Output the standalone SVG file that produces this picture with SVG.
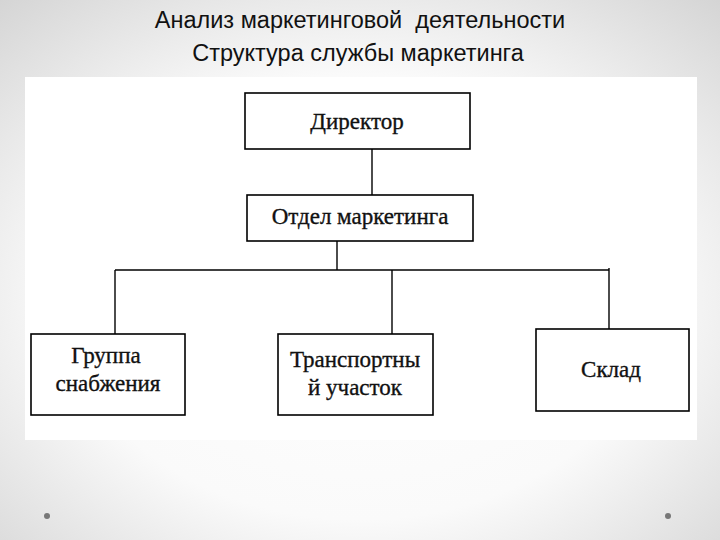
<svg xmlns="http://www.w3.org/2000/svg" width="720" height="540" viewBox="0 0 720 540">
<defs>
<radialGradient id="bg" cx="0.5" cy="0.55" r="0.75">
<stop offset="0" stop-color="#ffffff"/>
<stop offset="0.55" stop-color="#fafafa"/>
<stop offset="1" stop-color="#d4d4d4"/>
</radialGradient>
</defs>
<style>
.title{font-family:"Liberation Sans",Arial,sans-serif;font-size:23.5px;fill:#111;text-anchor:middle}
.box{fill:#fff;stroke:#000;stroke-width:1.6}
.lbl{font-family:"Liberation Serif","Times New Roman",serif;font-size:23px;fill:#111;stroke:#111;stroke-width:0.35;text-anchor:middle}
.conn{stroke:#000;stroke-width:1.4;fill:none}
</style>
<rect x="0" y="0" width="720" height="540" fill="url(#bg)"/>
<text class="title" x="360" y="28" xml:space="preserve">Анализ маркетинговой  деятельности</text>
<text class="title" x="358" y="61">Структура службы маркетинга</text>
<rect x="25" y="77" width="672" height="363" fill="#fff"/>
<g id="connectors">
<line class="conn" x1="372" y1="149" x2="372" y2="195"/>
<line class="conn" x1="337" y1="241" x2="337" y2="270"/>
<line class="conn" x1="115" y1="270" x2="609" y2="270"/>
<line class="conn" x1="115" y1="270" x2="115" y2="334"/>
<line class="conn" x1="392" y1="270" x2="392" y2="334"/>
<line class="conn" x1="609" y1="268" x2="609" y2="329"/>
</g>
<g id="director">
<rect class="box" x="245" y="93" width="225" height="56"/>
<text class="lbl" x="357" y="129">Директор</text>
</g>
<g id="marketing">
<rect class="box" x="247" y="195" width="226" height="46"/>
<text class="lbl" x="360" y="224">Отдел маркетинга</text>
</g>
<g id="supply">
<rect class="box" x="31" y="334" width="154" height="81"/>
<text class="lbl" x="106" y="363">Группа</text>
<text class="lbl" x="108" y="391">снабжения</text>
</g>
<g id="transport">
<rect class="box" x="278" y="334" width="155" height="81"/>
<text class="lbl" x="355" y="367">Транспортны</text>
<text class="lbl" x="355" y="395">й участок</text>
</g>
<g id="warehouse">
<rect class="box" x="536" y="329" width="153" height="82"/>
<text class="lbl" x="611" y="377">Склад</text>
</g>
<circle cx="47" cy="516" r="3" fill="#777"/>
<circle cx="668" cy="516" r="3" fill="#777"/>
</svg>
